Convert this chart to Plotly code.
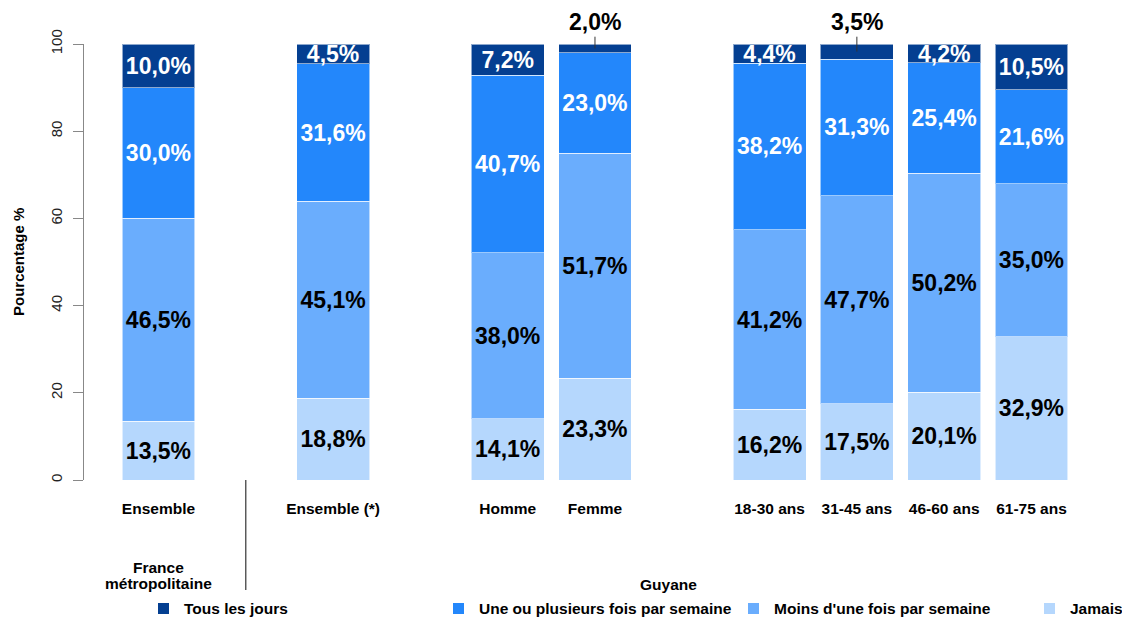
import plotly.graph_objects as go

# Fréquence par catégorie (en %)
categories = ["Ensemble", "Ensemble (*)", "Homme", "Femme",
              "18-30 ans", "31-45 ans", "46-60 ans", "61-75 ans"]
series_names = ["Tous les jours", "Une ou plusieurs fois par semaine",
                "Moins d'une fois par semaine", "Jamais"]
tous_les_jours = [10.0, 4.5, 7.2, 2.0, 4.4, 3.5, 4.2, 10.5]
une_ou_plusieurs = [30.0, 31.6, 40.7, 23.0, 38.2, 31.3, 25.4, 21.6]
moins_une_fois = [46.5, 45.1, 38.0, 51.7, 41.2, 47.7, 50.2, 35.0]
jamais = [13.5, 18.8, 14.1, 23.3, 16.2, 17.5, 20.1, 32.9]
group_france = ["France", "métropolitaine"]
group_guyane = "Guyane"

# Horizontal slots: gaps separate the groups
slots = [0, 2, 4, 5, 7, 8, 9, 10]

colors = ["#043f91", "#2387fb", "#6aadfd", "#b5d7fd"]
text_colors = ["white", "white", "black", "black"]
FONT = "Liberation Sans, Arial, sans-serif"

# plot area geometry (pixels)
L, T, PW, PH = 84, 44, 1026, 436


def fmt(v):
    return f"{v:.1f}".replace(".", ",") + "%"


def py(pixel_y):
    """Pixel row -> paper y."""
    return (T + PH - pixel_y) / PH


def px(pixel_x):
    """Pixel column -> paper x."""
    return (pixel_x - L) / PW


fig = go.Figure()

# stacked from bottom to top
stack = [(series_names[3], jamais, 3), (series_names[2], moins_une_fois, 2),
         (series_names[1], une_ou_plusieurs, 1), (series_names[0], tous_les_jours, 0)]

for name, vals, ci in stack:
    if ci == 0:
        texts = [fmt(v) if v >= 4 else "" for v in vals]
    else:
        texts = [fmt(v) for v in vals]
    fig.add_trace(go.Bar(
        x=slots, y=vals, name=name, width=0.835,
        marker=dict(color=colors[ci], line=dict(color="rgba(255,255,255,0.55)", width=1)),
        text=texts, textposition="inside", insidetextanchor="middle", textangle=0,
        textfont=dict(family=FONT, size=23, color=text_colors[ci], weight="bold"),
        showlegend=False, hoverinfo="skip",
    ))

annotations = []
# very small top segments: label above the bar with a leader line
for x, v in zip(slots, tous_les_jours):
    if v < 4:
        annotations.append(dict(
            x=x, y=100 - v / 2, xref="x", yref="y", text=fmt(v),
            showarrow=True, arrowhead=0, arrowwidth=1, arrowcolor="#333",
            axref="x", ayref="y", ax=x, ay=105.0,
            font=dict(family=FONT, size=23, color="black", weight="bold"),
        ))

# y-axis title
annotations.append(dict(
    x=0, y=0.5, xref="paper", yref="paper", xshift=-66, xanchor="center",
    yanchor="middle", textangle=-90, text="Pourcentage %", showarrow=False,
    font=dict(family=FONT, size=15, color="black", weight="bold"),
))

# group labels under the categories
for line, row in zip(group_france, [567, 583]):
    annotations.append(dict(
        x=slots[0], y=py(row), xref="x", yref="paper", text=line,
        xanchor="center", yanchor="middle", showarrow=False,
        font=dict(family=FONT, size=15.5, color="black", weight="bold"),
    ))
annotations.append(dict(
    x=px(668), y=py(584), xref="paper", yref="paper", text=group_guyane,
    xanchor="center", yanchor="middle", showarrow=False,
    font=dict(family=FONT, size=15.5, color="black", weight="bold"),
))

shapes = [dict(type="line", xref="x", yref="paper", x0=1, x1=1, y0=0, y1=py(590),
               line=dict(color="#444", width=1.3))]

# legend row
legend_x = [158, 453, 748, 1044]
for name, col, lx in zip(series_names, colors, legend_x):
    shapes.append(dict(type="rect", xref="paper", yref="paper",
                       x0=px(lx), x1=px(lx + 11), y0=py(614), y1=py(603),
                       fillcolor=col, line=dict(width=0)))
    annotations.append(dict(
        x=px(lx + 26), y=py(608.5), xref="paper", yref="paper",
        xanchor="left", yanchor="middle", text=name, showarrow=False, xshift=-2,
        font=dict(family=FONT, size=15.5, color="black", weight="bold"),
    ))

fig.update_layout(
    barmode="stack",
    width=1122, height=617,
    margin=dict(l=L, r=1122 - L - PW, t=T, b=617 - T - PH),
    plot_bgcolor="white", paper_bgcolor="white",
    annotations=annotations, shapes=shapes,
    uniformtext=dict(minsize=23, mode="show"),
    xaxis=dict(
        range=[-0.853, -0.853 + PW / 87.3],
        tickmode="array", tickvals=slots, ticktext=categories,
        tickfont=dict(family=FONT, size=15.5, color="black", weight="bold"),
        showgrid=False, zeroline=False, showline=False, ticks="",
        ticklabelstandoff=17,
    ),
    yaxis=dict(
        range=[0, 100], tickvals=[0, 20, 40, 60, 80, 100],
        tickangle=-90, ticks="outside", ticklen=10, tickcolor="#888",
        showline=True, linecolor="#888", linewidth=1,
        showgrid=False, zeroline=False,
        tickfont=dict(family=FONT, size=15, color="#222"),
        ticklabelstandoff=5,
    ),
)

fig.write_html("out.html")
